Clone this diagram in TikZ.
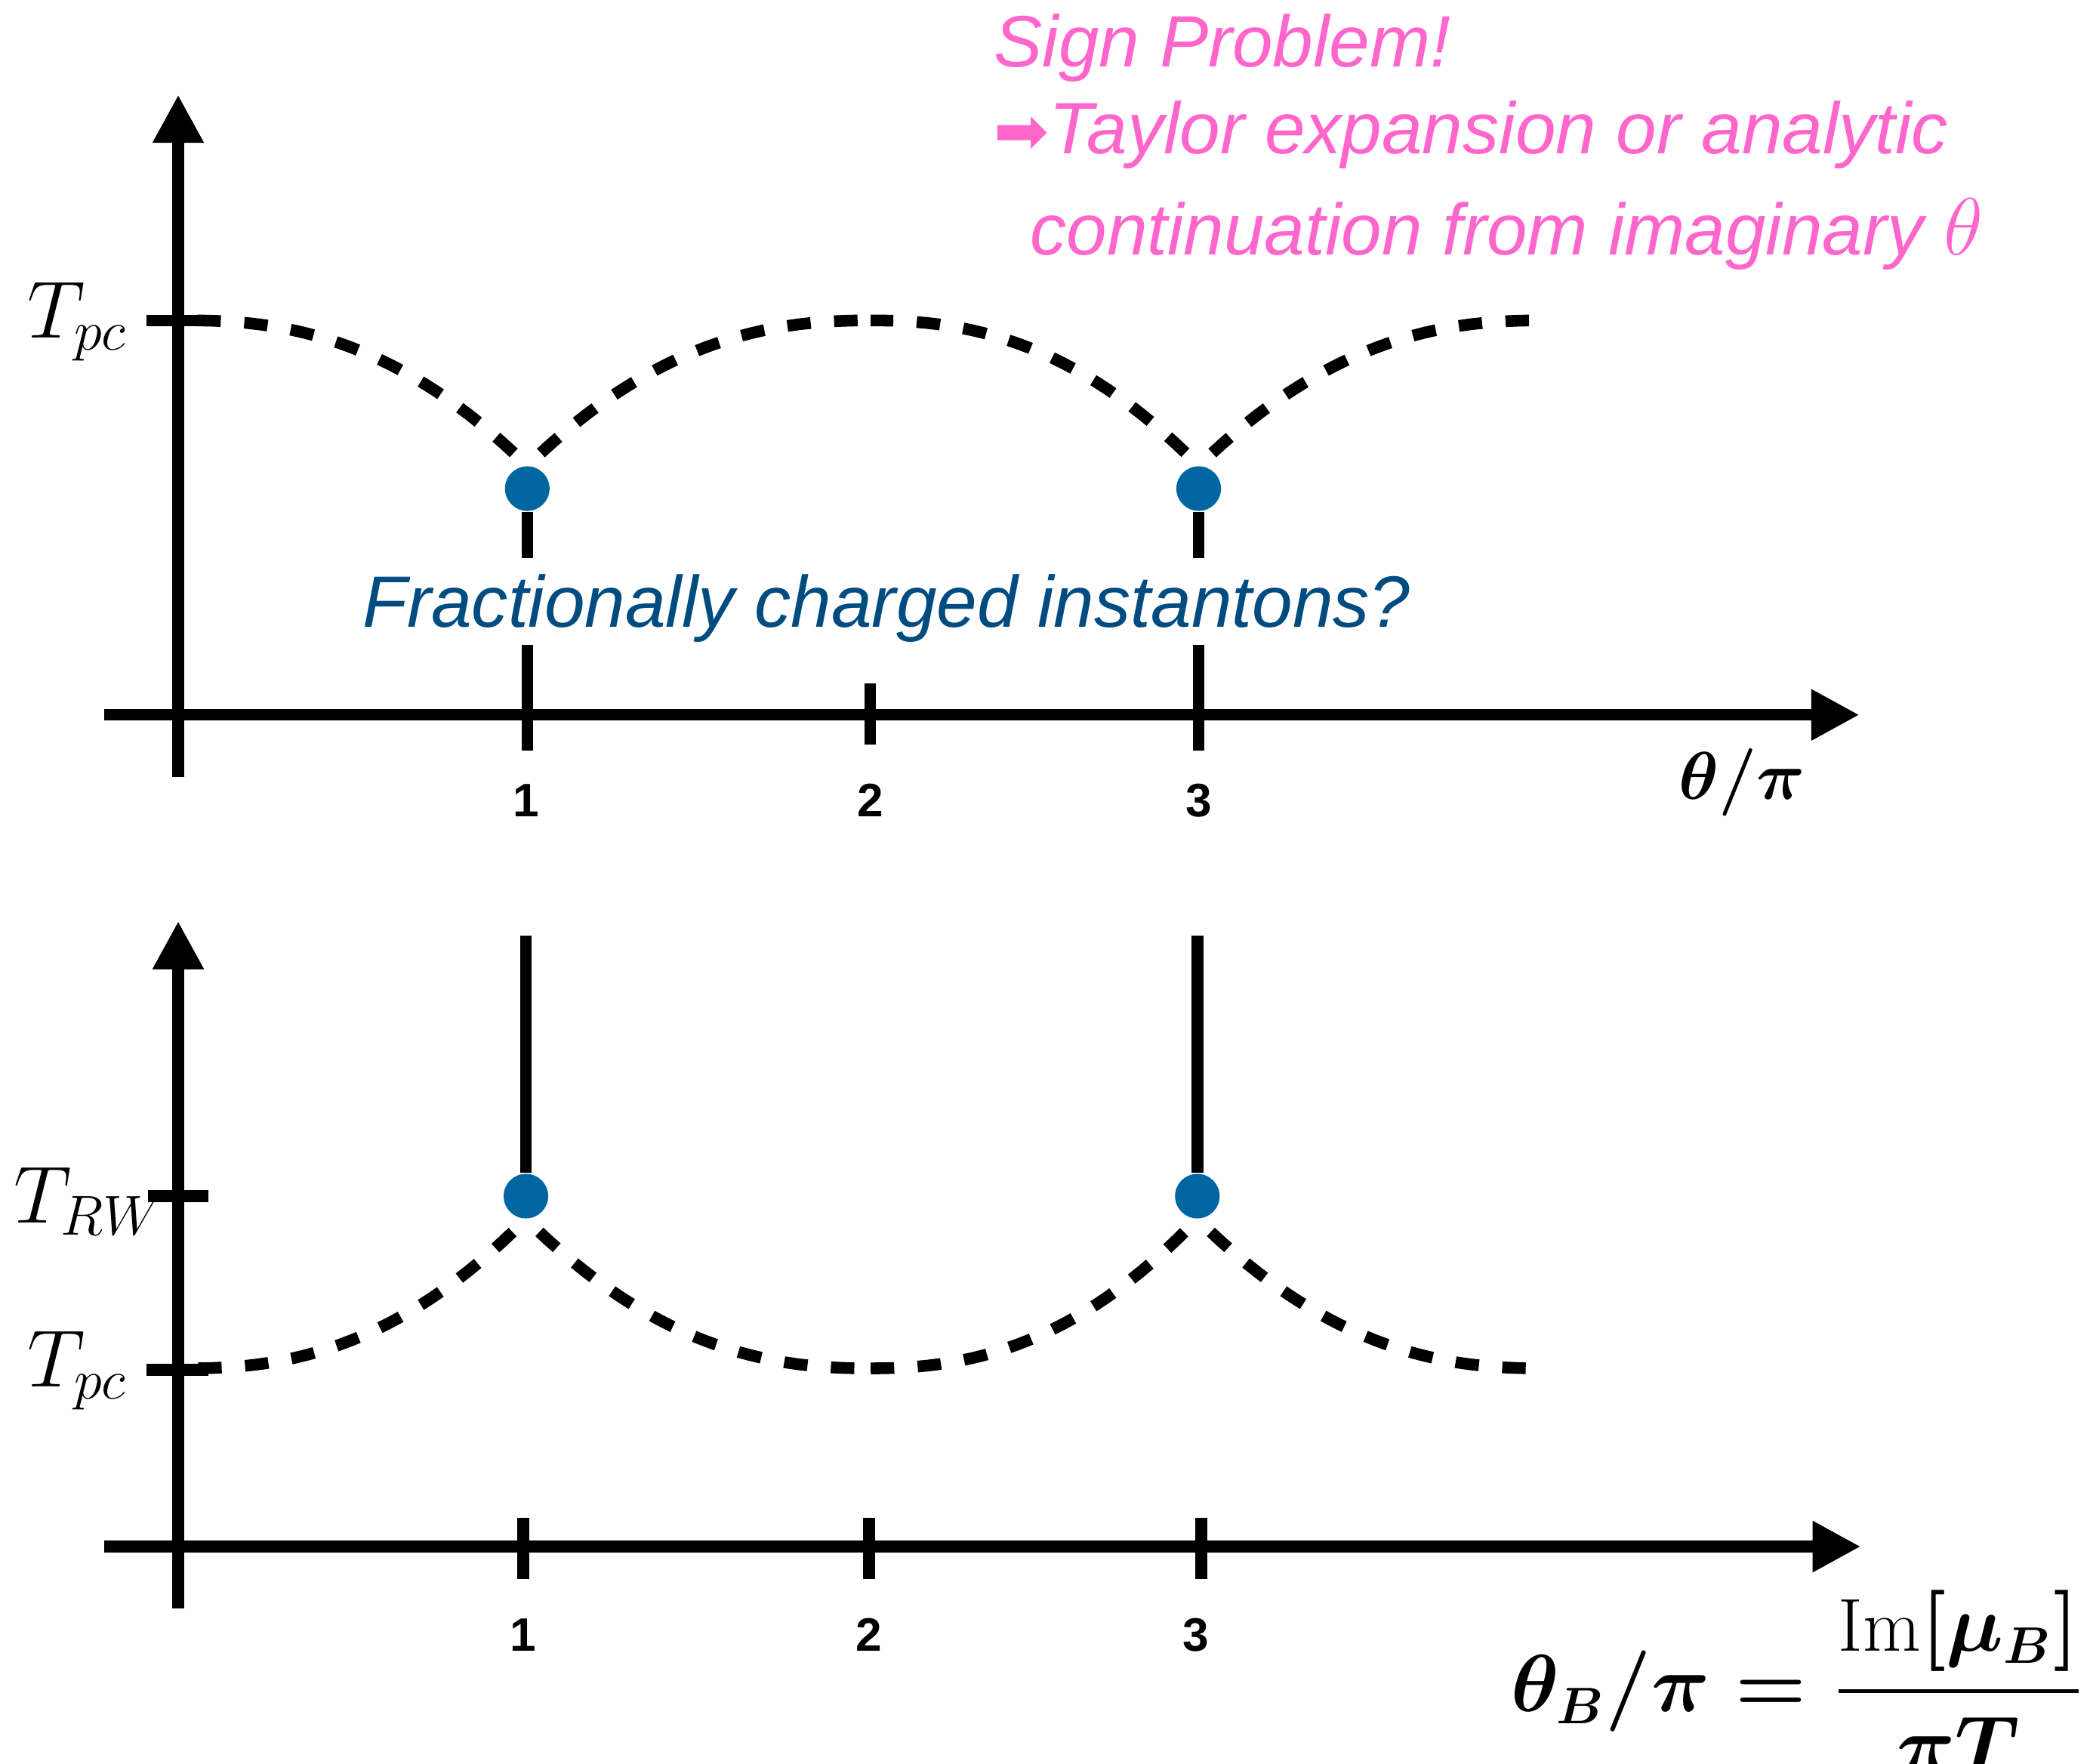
\documentclass[tikz,border=0pt]{standalone}
\usepackage{amsmath}
\usepackage{fontspec}
\usepackage{tikz}
\usetikzlibrary{arrows.meta, positioning}
\newfontfamily\labelfont{Liberation Sans}
\newfontfamily\symbolfont{DejaVu Sans}
\definecolor{signpink}{HTML}{FF66CC}
\definecolor{instblue}{HTML}{004C80}
\definecolor{dotblue}{HTML}{0066A1}
\tikzstyle{axisline}  = [line width=2.5pt, -{Triangle[length=0.36cm, width=0.36cm]}]
\tikzstyle{tickline}  = [line width=2.5pt]
\tikzstyle{dashcurve} = [line width=2.5pt, dash pattern=on 5pt off 5pt, dash phase=6pt]
\tikzstyle{critdot}   = [circle, fill=dotblue, inner sep=0pt, minimum size=0.334cm]
\tikzstyle{ticklabel} = [font=\labelfont\bfseries\fontsize{10}{12}\selectfont,
                         anchor=base, inner sep=0pt]
\tikzstyle{pinknote}  = [font=\labelfont\itshape\fontsize{15.5}{18}\selectfont,
                         text=signpink, anchor=base west, inner sep=0pt]
\tikzstyle{mathlabel} = [font=\fontsize{17}{20}\selectfont, anchor=base west, inner sep=0pt]

\begin{document}
\begin{tikzpicture}[x=0.01cm, y=-0.01cm]
  \useasboundingbox (0,0) rectangle (1568,1321);

  %% upper plot: theta
  \draw[axisline] (133.5,582) -- (133.5,71);
  \draw[axisline] (78,535.5) -- (1393,535.5);
  \draw[tickline] (110,240) -- (156,240);
  \node[mathlabel] (tpcup) at (20,253) {$T_{pc}$};

  \foreach \xc/\xv in {395/141, 395/652, 898/652, 898/1155}
    \draw[dashcurve] plot[domain=0:0.999, samples=30]
      ({\xc+(\xv-\xc)*\x}, {240+109*(1-\x)^2.3});

  \node[critdot] (upA) at (395,366) {};
  \node[critdot] (upB) at (898,366) {};
  \draw[tickline] (upA) -- (395,418);
  \draw[tickline] (upB) -- (898,418);
  \draw[tickline] (395,483) -- (395,562);
  \draw[tickline] (898,483) -- (898,562);
  \draw[tickline] (652,512) -- (652,558);

  \node[ticklabel] (upone)   at (394,612) {1};
  \node[ticklabel] (uptwo)   at (652,612) {2};
  \node[ticklabel] (upthree) at (898,612) {3};
  \node[mathlabel, font=\fontsize{15}{20}\selectfont\boldmath] (thaxis) at (1257,599)
    {$\theta/\pi$};

  \node[font=\labelfont\itshape\fontsize{15.5}{18}\selectfont, text=instblue,
        anchor=base west, inner sep=0pt] (fraction) at (271,470)
    {Fractionally charged instantons?};

  %% sign problem note
  \node[pinknote] (sign) at (744,50) {Sign Problem!};
  \node[pinknote] (taylor) at (744,115)
    {{\symbolfont\upshape\fontsize{14}{14}\selectfont ➡}Taylor expansion or analytic};
  \node[pinknote] (contin) at (771,191)
    {continuation from imaginary {\fontsize{18}{18}\selectfont$\theta$}};

  %% lower plot: theta_B
  \draw[axisline] (133.5,1205) -- (133.5,690);
  \draw[axisline] (78,1158.5) -- (1394,1158.5);
  \draw[tickline] (111,896) -- (156,896);
  \draw[tickline] (110,1026) -- (156,1026);
  \node[mathlabel] (trw)   at (10,916)  {$T_{RW}$};
  \node[mathlabel] (tpclo) at (20,1039) {$T_{pc}$};

  \foreach \xc/\xv in {394/141, 394/652, 897/652, 897/1155}
    \draw[dashcurve] plot[domain=0:0.999, samples=30]
      ({\xc+(\xv-\xc)*\x}, {1025-112*(1-\x)^2.3});

  \node[critdot] (loA) at (394,896) {};
  \node[critdot] (loB) at (897,896) {};
  \draw[tickline] (loA) -- (394,701);
  \draw[tickline] (loB) -- (897,701);
  \draw[tickline] (392,1137) -- (392,1183);
  \draw[tickline] (651,1137) -- (651,1183);
  \draw[tickline] (900,1137) -- (900,1183);

  \node[ticklabel] (loone)   at (392,1237) {1};
  \node[ticklabel] (lotwo)   at (651,1237) {2};
  \node[ticklabel] (lothree) at (896,1237) {3};
  \node[mathlabel, font=\fontsize{16}{20}\selectfont\boldmath, anchor=base east]
    (thbaxis) at (1562,1282)
    {$\displaystyle \theta_B/\pi = \frac{\text{Im}[\mu_B]}{\pi T}$};

\end{tikzpicture}
\end{document}
